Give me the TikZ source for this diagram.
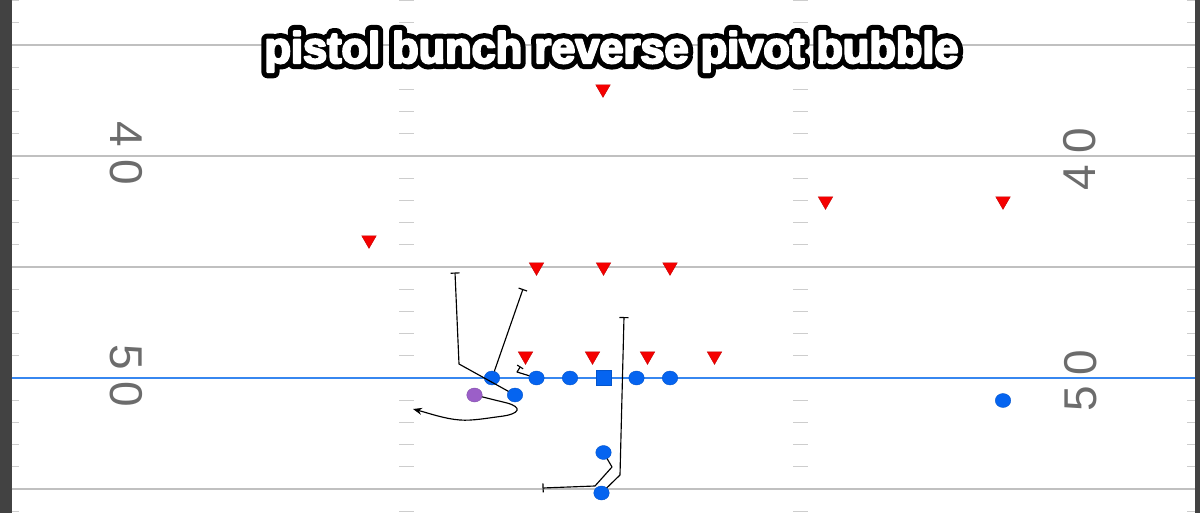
\documentclass[tikz,border=0pt]{standalone}
\usepackage{fontspec}
\setmainfont{Liberation Sans}
\newfontfamily\ttlouter{Liberation Sans Bold}[FakeBold=28]
\newfontfamily\ttlinner{Liberation Sans Bold}[FakeBold=5]
\usetikzlibrary{arrows.meta,shapes.geometric}
\definecolor{pblue}{RGB}{5,100,240}
\definecolor{pred}{RGB}{245,0,0}
\definecolor{ppurple}{RGB}{155,95,200}
\definecolor{fline}{RGB}{192,192,192}
\definecolor{tick}{RGB}{205,205,205}
\definecolor{los}{RGB}{55,135,240}
\definecolor{sidebar}{RGB}{66,66,66}
\definecolor{numgray}{RGB}{108,108,108}
\tikzset{
  player/.style={ellipse,minimum width=15.5pt,minimum height=14pt,inner sep=0pt,outer sep=0pt,fill=pblue,draw=pblue!85!black,line width=0.4pt},
  centersq/.style={rectangle,minimum size=15pt,inner sep=0pt,outer sep=0pt,fill=pblue,draw=pblue!85!black,line width=0.4pt},
  qbp/.style={player,fill=ppurple,draw=ppurple!85!black},
  defender/.style={regular polygon,regular polygon sides=3,shape border rotate=180,minimum size=16.8pt,inner sep=0pt,outer sep=0pt,fill=pred,draw=pred!80!black,line width=0.4pt},
  route/.style={draw=black,line width=1.15pt,line join=round},
  block/.style={route,-{Bar[width=9pt,line width=1.15pt]}},
  yardline/.style={draw=fline,line width=1.4pt},
  hashmark/.style={draw=tick,line width=1.2pt},
  ydigit/.style={font=\fontsize{46}{46}\selectfont,text=numgray,inner sep=0pt,outer sep=0pt},
  ttl/.style={inner sep=0pt,anchor=base,line join=round}
}
\newcommand{\playtitle}[1]{\resizebox{694pt}{\height}{#1\fontsize{44}{44}\selectfont pistol bunch reverse pivot bubble}}
\begin{document}
\begin{tikzpicture}[x=1pt,y=-1pt]
\useasboundingbox (0,0) rectangle (1200,513);
\fill[white] (0,0) rectangle (1200,513);
% sidelines
\fill[sidebar] (0,0) rectangle (11.5,513);
\fill[sidebar] (1194.5,0) rectangle (1200,513);
% hash marks
\foreach \m in {-17,-16,-14,-13,-12,-11,-9,-8,-7,-6,-4,-3,-2,-1,1,2,3,4,6}{
  \draw[hashmark] (11.5,378+22.2*\m) -- (18.5,378+22.2*\m);
  \draw[hashmark] (399,378+22.2*\m) -- (414,378+22.2*\m);
  \draw[hashmark] (793,378+22.2*\m) -- (808,378+22.2*\m);
  \draw[hashmark] (1187,378+22.2*\m) -- (1194.5,378+22.2*\m);
}
% yard lines
\foreach \y in {45,156,267,489}{
  \draw[yardline] (11.5,\y) -- (1194.5,\y);
}
\draw[draw=los,line width=1.3pt] (11.5,378) -- (1194.5,378);
% yard numbers
\node[ydigit,rotate=-90] (l40a) at (126.5,134) {4};
\node[ydigit,rotate=-90] (l40b) at (126.5,172.5) {0};
\node[ydigit,rotate=-90] (l50a) at (126.5,357.5) {5};
\node[ydigit,rotate=-90] (l50b) at (126.5,394) {0};
\node[ydigit,rotate=90] (r40a) at (1080,177.5) {4};
\node[ydigit,rotate=90] (r40b) at (1080,141) {0};
\node[ydigit,rotate=90] (r50a) at (1080.5,399) {5};
\node[ydigit,rotate=90] (r50b) at (1080.5,362.5) {0};
% title
\node[ttl,text=black] (titleout) at (611.5,63) {\playtitle{\ttlouter}};
\node[ttl,text=white] (title) at (611.5,63) {\playtitle{\ttlinner}};
% defenders
\node[defender] (d1) at (603,89) {};
\node[defender] (d2) at (369,240) {};
\node[defender] (d3) at (825.5,201) {};
\node[defender] (d4) at (1003,201) {};
\node[defender] (d5) at (536.5,267) {};
\node[defender] (d6) at (603.5,267) {};
\node[defender] (d7) at (670,267) {};
\node[defender] (d8) at (525.5,356) {};
\node[defender] (d9) at (592.5,356) {};
\node[defender] (d10) at (647.5,356) {};
\node[defender] (d11) at (714.5,356) {};
% offense
\node[player] (o1) at (492,378) {};
\node[player] (o2) at (536.5,378) {};
\node[player] (o3) at (570,378) {};
\node[centersq] (c) at (603.5,378) {};
\node[player] (o4) at (636.5,378) {};
\node[player] (o5) at (670,378) {};
\node[player] (wr) at (515,395) {};
\node[qbp] (qb) at (474.5,395) {};
\node[player] (rb1) at (603.5,452.5) {};
\node[player] (rb2) at (601.5,493) {};
\node[player] (x) at (1003,400.5) {};
% route coordinates
\coordinate (ae) at (523,289);
\coordinate (bm) at (459,364);
\coordinate (be) at (455,272.5);
\coordinate (sm) at (517,372);
\coordinate (se) at (520.5,366.5);
\coordinate (cm1) at (612,467);
\coordinate (cm2) at (595,486);
\coordinate (ce) at (542.5,488);
\coordinate (dm) at (620,475);
\coordinate (de) at (624,317);
\coordinate (pm) at (507,403);
\coordinate (pl) at (460,420);
\coordinate (pe) at (413,409);
% routes
\draw[block] (o1) -- (ae);
\draw[block] (wr) -- (bm) -- (be);
\draw[route,-{Bar[width=7pt,line width=1.15pt]}] (o2) -- (sm) -- (se);
\draw[block] (rb1) -- (cm1) -- (cm2) -- (ce);
\draw[block] (rb2) -- (dm) -- (de);
\draw[route,-{Stealth[length=9pt,width=7pt]}] (qb) -- (pm) .. controls (522,407) and (521,414) .. (500,416.5) .. controls (488,418) and (472,421) .. (pl) .. controls (445,419) and (428,413) .. (pe);
\end{tikzpicture}
\end{document}
